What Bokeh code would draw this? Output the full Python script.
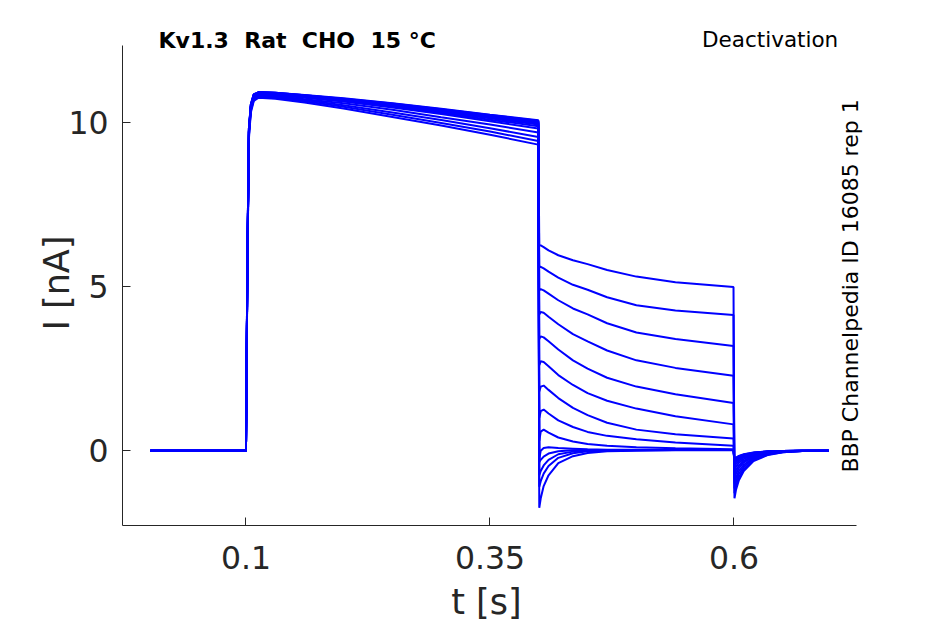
from bokeh.plotting import figure
from bokeh.models import Range1d, FixedTicker, Label, LinearAxis
from bokeh.embed import file_html
from bokeh.resources import INLINE
import math

# ---- data (time in s, current in nA) ----
t_base = [0.002, 0.0995]
i_base = [0.0, 0.0]

t_step = [0.1, 0.1015, 0.103, 0.105, 0.108, 0.113, 0.13, 0.16, 0.2, 0.25, 0.3, 0.35, 0.3995]
i_step = [
    [0, 6.0, 9.8, 10.55, 10.85, 10.92, 10.9, 10.82, 10.72, 10.57, 10.4, 10.22, 10.05],
    [0, 6.0, 9.8, 10.55, 10.85, 10.92, 10.9, 10.82, 10.71, 10.56, 10.39, 10.21, 10.03],
    [0, 5.9, 9.8, 10.5, 10.83, 10.9, 10.88, 10.8, 10.7, 10.55, 10.38, 10.2, 10.02],
    [0, 5.9, 9.75, 10.5, 10.82, 10.9, 10.88, 10.8, 10.7, 10.54, 10.37, 10.19, 10.0],
    [0, 5.9, 9.75, 10.5, 10.82, 10.9, 10.87, 10.79, 10.68, 10.53, 10.35, 10.17, 9.98],
    [0, 5.8, 9.7, 10.48, 10.8, 10.88, 10.86, 10.78, 10.67, 10.51, 10.33, 10.15, 9.96],
    [0, 5.8, 9.7, 10.48, 10.8, 10.88, 10.85, 10.77, 10.66, 10.5, 10.31, 10.12, 9.93],
    [0, 5.8, 9.7, 10.46, 10.78, 10.87, 10.84, 10.76, 10.65, 10.48, 10.28, 10.08, 9.88],
    [0, 5.8, 9.7, 10.45, 10.75, 10.85, 10.83, 10.75, 10.63, 10.45, 10.25, 10.03, 9.81],
    [0, 5.8, 9.7, 10.4, 10.72, 10.83, 10.8, 10.7, 10.58, 10.38, 10.15, 9.93, 9.69],
    [0, 5.7, 9.6, 10.4, 10.7, 10.8, 10.78, 10.68, 10.52, 10.3, 10.07, 9.82, 9.55],
    [0, 5.7, 9.6, 10.35, 10.68, 10.78, 10.75, 10.64, 10.47, 10.23, 9.98, 9.72, 9.43],
    [0, 5.6, 9.5, 10.3, 10.65, 10.75, 10.72, 10.6, 10.42, 10.16, 9.9, 9.62, 9.32],
    [0, 6.0, 9.8, 10.55, 10.85, 10.92, 10.9, 10.83, 10.73, 10.58, 10.41, 10.23, 10.06],
]

t_tail = [0.4005, 0.402, 0.405, 0.41, 0.42, 0.435, 0.45, 0.47, 0.5, 0.54, 0.5995]
i_tail = [
    [6.26, 6.25, 6.2, 6.1, 5.95, 5.8, 5.68, 5.5, 5.3, 5.13, 4.98],
    [5.58, 5.6, 5.55, 5.45, 5.27, 5.05, 4.9, 4.67, 4.43, 4.27, 4.13],
    [4.89, 4.92, 4.88, 4.78, 4.58, 4.33, 4.15, 3.88, 3.6, 3.4, 3.19],
    [4.15, 4.22, 4.2, 4.08, 3.85, 3.55, 3.33, 3.05, 2.75, 2.52, 2.28],
    [3.4, 3.48, 3.45, 3.33, 3.08, 2.75, 2.5, 2.22, 1.95, 1.72, 1.45],
    [2.6, 2.72, 2.7, 2.57, 2.3, 2.0, 1.75, 1.52, 1.28, 1.05, 0.8],
    [1.8, 1.95, 1.98, 1.85, 1.6, 1.3, 1.08, 0.85, 0.64, 0.5, 0.37],
    [1.0, 1.2, 1.25, 1.13, 0.92, 0.72, 0.57, 0.45, 0.35, 0.25, 0.15],
    [0.3, 0.58, 0.64, 0.55, 0.4, 0.28, 0.2, 0.15, 0.1, 0.07, 0.04],
    [-0.25, 0.0, 0.08, 0.1, 0.08, 0.06, 0.04, 0.03, 0.03, 0.02, 0.02],
    [-0.35, -0.28, -0.18, -0.09, -0.02, 0.01, 0.02, 0.02, 0.02, 0.02, 0.02],
    [-0.75, -0.62, -0.45, -0.28, -0.11, -0.03, 0.0, 0.01, 0.02, 0.02, 0.02],
    [-1.1, -0.93, -0.7, -0.47, -0.22, -0.08, -0.02, 0.0, 0.01, 0.02, 0.02],
    [-1.74, -1.45, -1.08, -0.75, -0.38, -0.17, -0.07, -0.02, 0.0, 0.01, 0.02],
]

t_ret = [0.6005, 0.602, 0.605, 0.61, 0.62, 0.635, 0.65, 0.67, 0.697]
i_ret = [
    [-1.45, -1.2, -0.9, -0.62, -0.32, -0.13, -0.05, -0.01, 0.0],
    [-1.3, -1.08, -0.81, -0.56, -0.29, -0.12, -0.05, -0.01, 0.0],
    [-1.15, -0.95, -0.71, -0.49, -0.25, -0.1, -0.04, -0.01, 0.0],
    [-1.0, -0.83, -0.62, -0.43, -0.22, -0.09, -0.03, -0.01, 0.0],
    [-0.85, -0.7, -0.53, -0.36, -0.19, -0.08, -0.03, -0.01, 0.0],
    [-0.72, -0.6, -0.45, -0.31, -0.16, -0.07, -0.02, 0.0, 0.0],
    [-0.6, -0.5, -0.37, -0.26, -0.13, -0.05, -0.02, 0.0, 0.0],
    [-0.5, -0.41, -0.31, -0.21, -0.11, -0.04, -0.02, 0.0, 0.0],
    [-0.42, -0.35, -0.26, -0.18, -0.09, -0.04, -0.01, 0.0, 0.0],
    [-0.36, -0.3, -0.22, -0.15, -0.08, -0.03, -0.01, 0.0, 0.0],
    [-0.32, -0.26, -0.2, -0.14, -0.07, -0.03, -0.01, 0.0, 0.0],
    [-0.3, -0.25, -0.19, -0.13, -0.07, -0.03, -0.01, 0.0, 0.0],
    [-0.28, -0.23, -0.17, -0.12, -0.06, -0.02, -0.01, 0.0, 0.0],
    [-0.26, -0.21, -0.16, -0.11, -0.06, -0.02, -0.01, 0.0, 0.0],
]

x_ticks = [0.1, 0.35, 0.6]
y_ticks = [0, 5, 10]
x_axis_span = (-0.0265, 0.7255)
y_axis_span = (-2.28, 12.34)
title_text = "Kv1.3\u00a0 Rat\u00a0 CHO\u00a0 15 °C"
protocol_text = "Deactivation"
source_text = "BBP Channelpedia ID 16085 rep 1"
x_label = "t [s]"
y_label = "I [nA]"
x_label_at = 0.3464   # anchor of the x label along the time axis
y_label_at = 6.55     # anchor (upper end) of the y label along the current axis

FONT = "DejaVu Sans"
GREY = "#262626"
W, H = 940, 624

# frame: left 122, right 880, top 15, bottom 526 (px); axes drawn only over their spans
p = figure(width=W, height=H,
           x_range=Range1d(-0.0265, 0.7501), y_range=Range1d(-2.28, 13.252),
           output_backend="svg", toolbar_location=None,
           min_border_left=122, min_border_right=W - 880,
           min_border_top=15, min_border_bottom=H - 526)
p.grid.visible = False
p.outline_line_color = None
p.background_fill_color = "white"
p.border_fill_color = "white"

for k in range(len(i_step)):
    xs = t_base + t_step + t_tail + t_ret
    ys = i_base + i_step[k] + i_tail[k] + i_ret[k]
    p.line(xs, ys, line_color="#0000FF", line_width=2.0)

for ax, ticks, span in ((p.xaxis, x_ticks, x_axis_span), (p.yaxis, y_ticks, y_axis_span)):
    ax.ticker = FixedTicker(ticks=ticks)
    ax.bounds = span
    ax.major_tick_in = 8
    ax.major_tick_out = 0
    ax.minor_tick_line_color = None
    ax.axis_line_color = GREY
    ax.major_tick_line_color = GREY
    ax.major_label_text_font = FONT
    ax.major_label_text_font_size = "31.5px"
    ax.major_label_text_color = GREY
p.xaxis.major_label_standoff = 20
p.yaxis.major_label_standoff = 14

def label_axis(text, at, standoff, orientation):
    return LinearAxis(ticker=FixedTicker(ticks=[at]),
                      major_label_overrides={at: text},
                      major_label_orientation=orientation,
                      major_label_standoff=standoff,
                      major_label_text_font=FONT,
                      major_label_text_font_size="35px",
                      major_label_text_color=GREY,
                      axis_line_color=None, major_tick_line_color=None,
                      minor_tick_line_color=None,
                      major_tick_in=0, major_tick_out=0)

p.add_layout(label_axis(x_label, x_label_at, 10, "horizontal"), "below")
p.add_layout(label_axis(y_label, y_label_at, 8, math.pi / 2), "left")

def lab(text, x, y, size, **kw):
    p.add_layout(Label(x=x, y=y, text=text, text_font=FONT,
                       text_font_size=size, text_color="black",
                       text_baseline="alphabetic", **kw))

lab(title_text, 0.0104, 12.49, "22px", text_font_style="bold", text_align="left")
lab(protocol_text, 0.5672, 12.52, "21.5px", text_align="left")
lab(source_text, 0.7194, 5.015, "22px", text_align="center", angle=math.pi / 2)

open("out.html", "w").write(file_html(p, INLINE))
